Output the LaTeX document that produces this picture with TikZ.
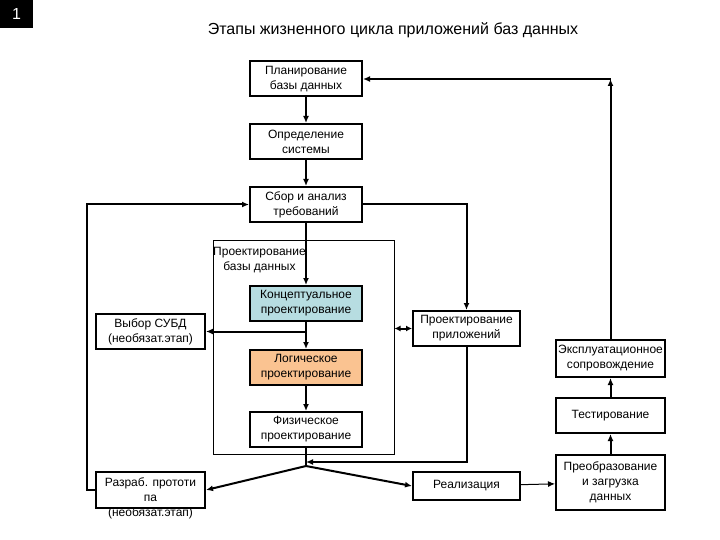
\documentclass[tikz,border=0pt]{standalone}
\usepackage{fontspec}
\setmainfont{Liberation Sans}
\definecolor{konccyan}{RGB}{183,221,225}
\definecolor{logorange}{RGB}{250,195,145}
\usetikzlibrary{arrows.meta,positioning,calc}

\begin{document}
\begin{tikzpicture}[x=1pt, y=-1pt,
  stage/.style={draw, line width=2pt, align=center, inner sep=2pt,
    font=\fontsize{12}{15}\selectfont},
  wide/.style={stage, minimum width=112pt, minimum height=35pt},
  side/.style={stage, minimum width=109pt, minimum height=35pt},
  flow/.style={line width=2pt, -{Latex[length=7pt,width=6pt]}},
  thinflow/.style={line width=1pt, -{Latex[length=7pt,width=6pt]}}]

\useasboundingbox (0,0) rectangle (720,540);

% slide number and title
\node[fill=black, text=white, minimum width=33pt, minimum height=28pt,
  font=\fontsize{16}{18}\selectfont] (num) at (16.5,14) {1};
\node[font=\fontsize{16}{18}\selectfont] (title) at (393,30)
  {Этапы жизненного цикла приложений баз данных};

% database design frame
\node[draw, line width=1pt, minimum width=181pt, minimum height=214pt,
  inner sep=0pt] (bdproj) at (303.5,347) {};
\node[align=center, anchor=north west, inner sep=0pt,
  font=\fontsize{12}{15}\selectfont] (bdlabel) at (213,247)
  {Проектирование\\базы данных};

% main column
\node[wide] (plan) at (306,79) {Планирование\\базы данных};
\node[wide] (opr) at (306,141.5) {Определение\\системы};
\node[wide] (sbor) at (306,204.5) {Сбор и анализ\\требований};
\node[wide, fill=konccyan] (konc) at (306,303.5) {Концептуальное\\проектирование};
\node[wide, fill=logorange] (log) at (306,367.5) {Логическое\\проектирование};
\node[wide] (fiz) at (306,429.5) {Физическое\\проектирование};

% left side
\node[side] (subd) at (150.5,331.5) {Выбор СУБД\\(необязат.этап)};
\node[side, minimum height=36pt] (proto) at (150.5,490) {};
\node[align=center, anchor=north, inner sep=0pt,
  font=\fontsize{12}{15}\selectfont] (protolabel) at (150.5,477)
  {Разраб. прототи\\па\\(необязат.этап)};

% right side
\node[stage, minimum width=107pt, minimum height=35pt] (prilozh) at (466.5,328.5)
  {Проектирование\\приложений};
\node[stage, minimum width=107pt, minimum height=28pt] (real) at (466.5,486) {Реализация};
\node[side, minimum height=37pt] (expl) at (610.5,358.5) {Эксплуатационное\\сопровождение};
\node[side] (test) at (610.5,415.5) {Тестирование};
\node[side, minimum height=55pt] (preob) at (610.5,482.5)
  {Преобразование\\и загрузка\\данных};

% connectors
\draw[flow] (plan) -- (opr);
\draw[flow] (opr) -- (sbor);
\draw[flow] (sbor) -- (konc);
\draw[flow] (sbor.east) -| (prilozh.north);
\draw[flow] (konc) -- (log);
\draw[flow] (konc.south |- subd.east) -- (subd.east);
\draw[line width=2pt, {Latex[length=6pt,width=6pt]}-{Latex[length=6pt,width=6pt]}]
  (bdproj.east |- prilozh.west) -- (prilozh.west);
\draw[flow] (log) -- (fiz);

\coordinate (jn) at ($(fiz.south)+(0,18)$);
\coordinate (jin) at ($(fiz.south)+(0,14)$);
\draw[line width=2pt] (fiz.south) -- (jn);
\draw[flow] (prilozh.south) |- (jin);
\draw[flow] (jn) -- (proto.east);
\draw[flow] (jn) -- (real.west);
\draw[flow] (proto.west) -- ++(-8,0) |- (sbor.west);

\draw[thinflow] (real) -- (preob);
\draw[flow] (preob) -- (test);
\draw[flow] (test) -- (expl);
\coordinate (crn) at (expl.north |- plan.east);
\draw[flow] (expl.north) -- (crn);
\draw[flow] (crn) -- (plan.east);

\end{tikzpicture}
\end{document}
